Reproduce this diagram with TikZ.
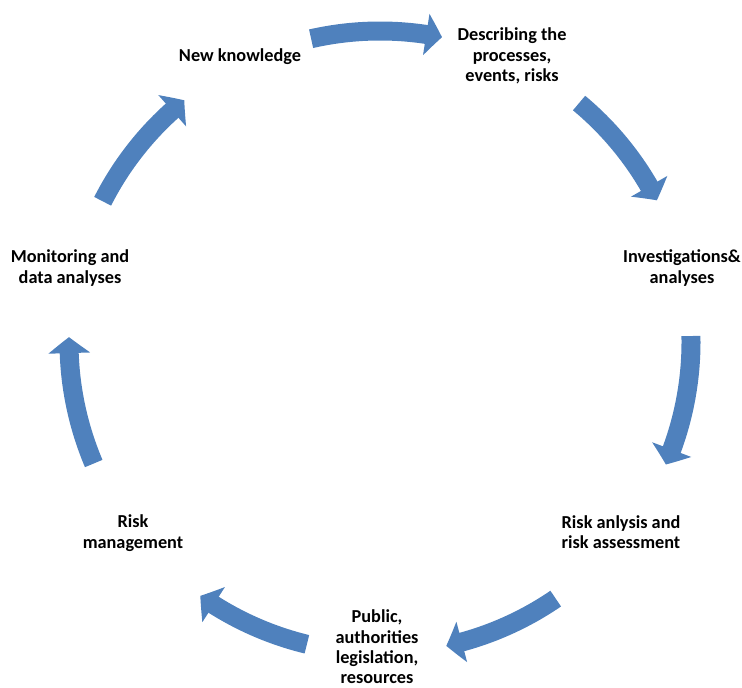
\documentclass[tikz,border=0pt]{standalone}
\usepackage{fontspec}
\setmainfont{Carlito}
\usetikzlibrary{arrows.meta,bending,calc}
\definecolor{cycleblue}{RGB}{79,129,189}
\begin{document}
\begin{tikzpicture}[x=0.02cm,y=0.02cm,
    lbl/.style={align=center,inner sep=0pt,font=\bfseries\fontsize{10.4}{11.6}\selectfont},
    cyclearrow/.style={draw=cycleblue,line width=0.38cm,-{Triangle[width=0.82cm,length=0.32cm,bend]}}]
    \useasboundingbox (0,0) rectangle (742,688);
    \coordinate (C) at (380,346);
    \node[lbl] (newknow) at (240,631) {New knowledge};
    \node[lbl] (describe) at (512,632) {Describing the\\processes,\\events, risks};
    \node[lbl] (invest) at (682,420) {Investigations\&\\analyses};
    \node[lbl] (riskanl) at (621,156) {Risk anlysis and\\risk assessment};
    \node[lbl] (public) at (377,41) {Public,\\authorities\\legislation,\\resources};
    \node[lbl] (riskman) at (133,155) {Risk\\management};
    \node[lbl] (monitor) at (70,420) {Monitoring and\\data analyses};
    % arrows along the circle
    \foreach \s/\e in {102.8/78.5, 50.2/27.1, 1.1/-23.2, -55.6/-77.7, 256.4/234.7, 203.0/179.1, 153.1/129.0}
        \draw[cyclearrow] ($(C)+(\s:311)$) arc[start angle=\s, end angle=\e, radius=311];
\end{tikzpicture}
\end{document}
